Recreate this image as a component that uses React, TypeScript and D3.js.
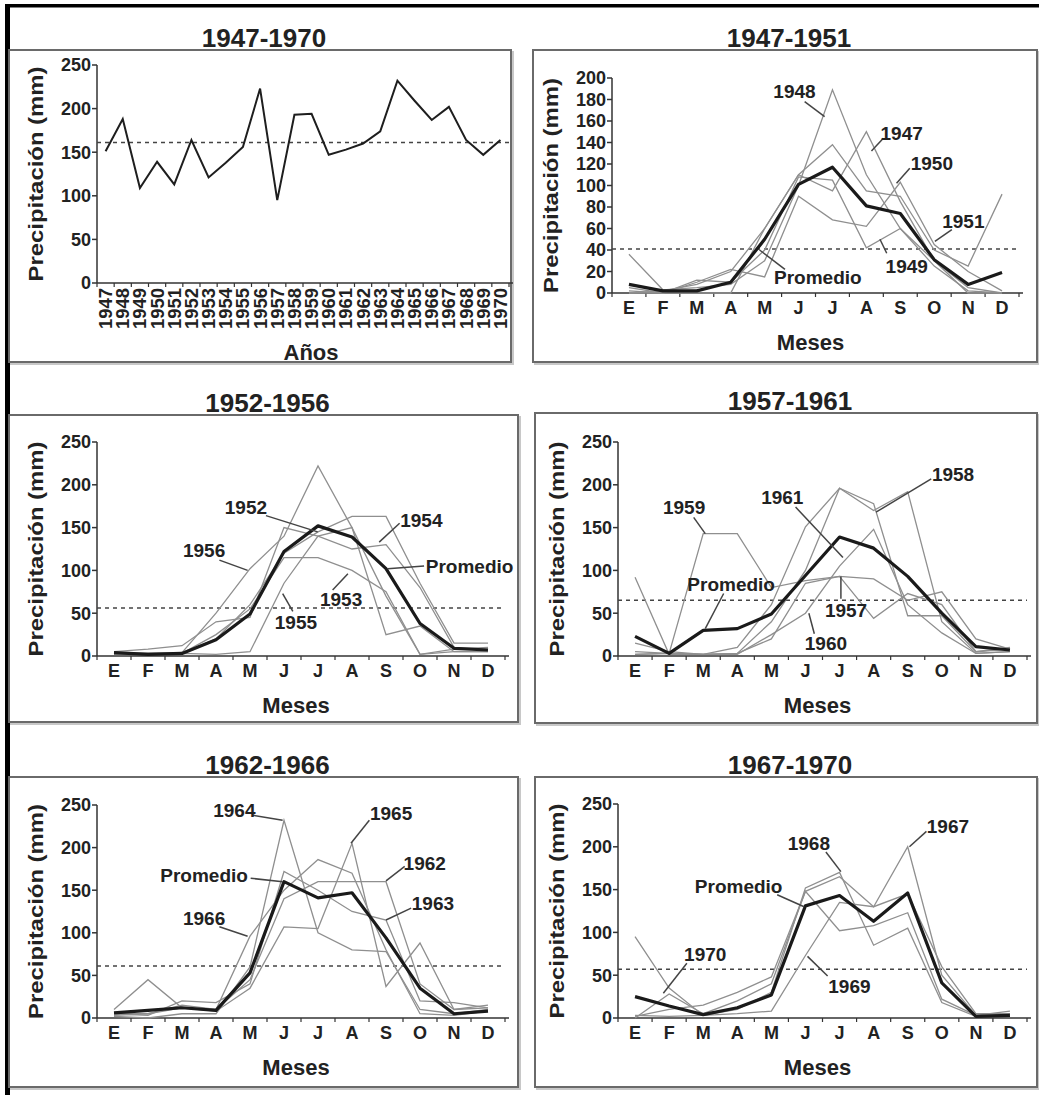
import React from 'react';
import * as d3 from 'd3';

// ---- data ----
const years = ['1947', '1948', '1949', '1950', '1951', '1952', '1953', '1954', '1955', '1956', '1957', '1958',
  '1959', '1960', '1961', '1962', '1963', '1964', '1965', '1966', '1967', '1968', '1969', '1970'];
const annualPrecip = [151, 188, 109, 139, 113, 164, 121, 138, 156, 223, 95, 193,
  194, 147, 153, 160, 174, 232, 209, 187, 202, 164, 147, 164];
const annualMean = 161;

const months = ['E', 'F', 'M', 'A', 'M', 'J', 'J', 'A', 'S', 'O', 'N', 'D'];

// 1947-1951
const y1947 = [0, 2, 8, 20, 60, 110, 95, 150, 85, 30, 5, 0];
const y1948 = [36, 3, 5, 8, 30, 100, 189, 110, 60, 25, 2, 0];
const y1949 = [5, 0, 12, 10, 40, 108, 105, 42, 60, 30, 0, 0];
const y1950 = [2, 0, 10, 22, 15, 90, 68, 62, 103, 45, 20, 2];
const y1951 = [0, 0, 0, 0, 60, 110, 138, 95, 90, 40, 25, 92];
const avg4751 = [8, 2, 2, 10, 50, 101, 117, 81, 74, 31, 8, 19];
const mean4751 = 41;

// 1952-1956
const y1952 = [5, 8, 12, 40, 45, 150, 140, 125, 130, 80, 10, 8];
const y1953 = [4, 3, 3, 25, 55, 115, 115, 100, 75, 2, 8, 10];
const y1954 = [3, 3, 3, 20, 60, 120, 145, 163, 163, 85, 15, 15];
const y1955 = [2, 2, 3, 2, 5, 85, 140, 150, 25, 35, 5, 5];
const y1956 = [3, 3, 4, 50, 102, 140, 222, 150, 70, 2, 5, 5];
const avg5256 = [4, 2, 3, 19, 49, 122, 152, 139, 102, 38, 9, 7];
const mean5256 = 56;

// 1957-1961
const y1957 = [5, 3, 2, 3, 20, 85, 93, 90, 65, 75, 20, 8];
const y1958 = [92, 2, 2, 3, 40, 100, 196, 170, 192, 40, 3, 5];
const y1959 = [2, 3, 143, 143, 80, 88, 93, 44, 73, 60, 5, 8];
const y1960 = [2, 3, 2, 2, 25, 50, 105, 148, 60, 27, 3, 5];
const y1961 = [15, 5, 2, 10, 60, 151, 196, 178, 47, 47, 5, 10];
const avg5761 = [23, 3, 30, 32, 49, 94, 139, 126, 93, 50, 11, 7];
const mean5761 = 65;

// 1962-1966
const y1962 = [10, 45, 12, 10, 45, 140, 160, 160, 160, 40, 10, 12];
const y1963 = [5, 3, 20, 18, 40, 172, 150, 125, 115, 20, 18, 12];
const y1964 = [2, 0, 5, 5, 60, 232, 100, 80, 78, 10, 5, 10];
const y1965 = [5, 5, 12, 8, 35, 107, 105, 205, 37, 88, 10, 15];
const y1966 = [3, 5, 15, 10, 96, 150, 186, 170, 80, 5, 3, 8];
const avg6266 = [6, 9, 12, 9, 53, 160, 141, 147, 94, 35, 5, 8];
const mean6266 = 61;

// 1967-1970
const y1967 = [2, 10, 15, 30, 48, 148, 165, 130, 200, 50, 3, 5];
const y1968 = [95, 35, 3, 10, 30, 152, 170, 85, 105, 18, 2, 2];
const y1969 = [3, 2, 3, 5, 8, 73, 135, 130, 145, 60, 5, 5];
const y1970 = [0, 28, 5, 20, 40, 148, 102, 108, 123, 22, 3, 8];
const avg6770 = [25, 14, 4, 12, 27, 131, 143, 113, 146, 41, 2, 3];
const mean6770 = 57;

// labels with leader lines, in data units (month index, mm)
const notes4751 = [
  { t: '1948', tx: 4.88, ty: 188, x1: 5.18, y1: 178, x2: 5.77, y2: 164 },
  { t: '1947', tx: 8.04, ty: 149, x1: 7.5, y1: 144, x2: 7.15, y2: 132 },
  { t: '1950', tx: 8.93, ty: 121, x1: 8.28, y1: 116, x2: 7.89, y2: 102 },
  { t: '1951', tx: 9.86, ty: 67, x1: 9.52, y1: 59, x2: 9.02, y2: 48 },
  { t: '1949', tx: 8.19, ty: 25, x1: 7.6, y1: 37, x2: 7.4, y2: 50 },
  { t: 'Promedio', tx: 5.57, ty: 15, x1: 4.6, y1: 22, x2: 3.85, y2: 40 },
];
const notes5256 = [
  { t: '1952', tx: 3.88, ty: 174, x1: 4.47, y1: 164, x2: 5.99, y2: 145 },
  { t: '1956', tx: 2.65, ty: 124, x1: 3.1, y1: 112, x2: 3.93, y2: 100 },
  { t: '1954', tx: 9.04, ty: 159, x1: 8.4, y1: 155, x2: 7.8, y2: 133 },
  { t: 'Promedio', tx: 9.17, ty: 105, x1: 9.12, y1: 105, x2: 8.05, y2: 102, anchor: 'start' },
  { t: '1953', tx: 6.68, ty: 66, x1: 6.43, y1: 77, x2: 6.88, y2: 96 },
  { t: '1955', tx: 5.35, ty: 40, x1: 5.26, y1: 52, x2: 4.96, y2: 73 },
];
const notes5761 = [
  { t: '1959', tx: 1.44, ty: 174, x1: 1.72, y1: 162, x2: 2.06, y2: 143 },
  { t: '1961', tx: 4.32, ty: 186, x1: 4.71, y1: 174, x2: 6.1, y2: 115 },
  { t: '1958', tx: 9.33, ty: 213, x1: 8.69, y1: 207, x2: 7.07, y2: 168 },
  { t: 'Promedio', tx: 2.82, ty: 84, x1: 2.6, y1: 73, x2: 2.06, y2: 32 },
  { t: '1957', tx: 6.19, ty: 54, x1: 6.04, y1: 67, x2: 6.04, y2: 93 },
  { t: '1960', tx: 5.6, ty: 15, x1: 5.26, y1: 26, x2: 5.1, y2: 50 },
];
const notes6266 = [
  { t: '1964', tx: 3.54, ty: 244, x1: 4.08, y1: 238, x2: 4.96, y2: 232 },
  { t: '1965', tx: 8.15, ty: 240, x1: 7.51, y1: 232, x2: 6.97, y2: 205 },
  { t: '1962', tx: 9.14, ty: 182, x1: 8.55, y1: 178, x2: 8.0, y2: 161 },
  { t: '1963', tx: 9.38, ty: 135, x1: 8.74, y1: 129, x2: 8.0, y2: 115 },
  { t: 'Promedio', tx: 2.65, ty: 168, x1: 4.02, y1: 164, x2: 4.96, y2: 160 },
  { t: '1966', tx: 2.65, ty: 117, x1: 3.1, y1: 107, x2: 3.93, y2: 96 },
];
const notes6770 = [
  { t: '1967', tx: 9.18, ty: 224, x1: 8.55, y1: 218, x2: 8.05, y2: 200 },
  { t: '1968', tx: 5.1, ty: 204, x1: 5.6, y1: 194, x2: 6.04, y2: 171 },
  { t: 'Promedio', tx: 3.04, ty: 154, x1: 4.17, y1: 144, x2: 4.96, y2: 130 },
  { t: '1970', tx: 2.06, ty: 74, x1: 1.52, y1: 64, x2: 0.83, y2: 29 },
  { t: '1969', tx: 6.29, ty: 37, x1: 5.65, y1: 49, x2: 5.06, y2: 72 },
];

const FONT = '"Liberation Sans", Arial, sans-serif';
const INK = '#222';

type Note = { t: string; tx: number; ty: number; x1: number; y1: number; x2: number; y2: number; anchor?: string };
type Layout = { bx0: number; bx1: number; by0: number; by1: number; left: number; right: number; top: number; bottom: number };

const Frame = ({ lay, title }: { lay: Layout; title: string }) => (
  <g>
    <rect x={lay.bx0 + 2} y={lay.by0 + 2} width={lay.bx1 - lay.bx0} height={lay.by1 - lay.by0} fill="none" stroke="#c8c8c8" strokeWidth={2} />
    <rect x={lay.bx0} y={lay.by0} width={lay.bx1 - lay.bx0} height={lay.by1 - lay.by0} fill="#fff" stroke="#6a6a6a" strokeWidth={2} />
    <text x={(lay.bx0 + lay.bx1) / 2 + 4} y={lay.by0 - 3} textAnchor="middle" fontFamily={FONT} fontWeight="bold" fontSize={26} fill={INK}>{title}</text>
  </g>
);

const YAxis = ({ y, ticks, lay }: { y: d3.ScaleLinear<number, number>; ticks: number[]; lay: Layout }) => (
  <g>
    <line x1={lay.left} x2={lay.left} y1={lay.bottom} y2={lay.top} stroke="#333" strokeWidth={1.5} />
    {ticks.map(t => (
      <g key={t}>
        <line x1={lay.left - 5} x2={lay.left} y1={y(t)} y2={y(t)} stroke="#333" strokeWidth={1.5} />
        <text x={lay.left - 6} y={y(t)} dy="0.36em" textAnchor="end" fontFamily={FONT} fontWeight="bold" fontSize={18} fill={INK}>{t}</text>
      </g>
    ))}
    <text transform={`translate(${lay.left - 61},${(lay.top + lay.bottom) / 2}) rotate(-90)`} textAnchor="middle" dy="0.35em"
      fontFamily={FONT} fontWeight="bold" fontSize={20} fill={INK} textLength={215} lengthAdjust="spacingAndGlyphs">Precipitación (mm)</text>
  </g>
);

const AnnualPanel = ({ lay }: { lay: Layout }) => {
  const x = d3.scaleBand().domain(years).range([lay.left, lay.right]);
  const y = d3.scaleLinear().domain([0, 250]).range([lay.bottom, lay.top]);
  const bw = x.bandwidth();
  const line = d3.line<number>().x((d, i) => (x(years[i]) as number) + bw / 2).y(d => y(d));
  return (
    <g>
      <Frame lay={lay} title="1947-1970" />
      <YAxis y={y} ticks={d3.range(0, 251, 50)} lay={lay} />
      <line x1={lay.left} x2={lay.right + 4} y1={lay.bottom} y2={lay.bottom} stroke="#333" strokeWidth={1.5} />
      {d3.range(years.length + 1).map(i => (
        <line key={i} x1={lay.left + i * bw} x2={lay.left + i * bw} y1={lay.bottom} y2={lay.bottom + 4} stroke="#333" strokeWidth={1.2} />
      ))}
      {years.map(yr => (
        <text key={yr} transform={`translate(${(x(yr) as number) + bw / 2},${lay.bottom + 5}) rotate(-90)`} textAnchor="end" dy="0.36em"
          fontFamily={FONT} fontWeight="bold" fontSize={18} fill={INK} textLength={41} lengthAdjust="spacingAndGlyphs">{yr}</text>
      ))}
      <line x1={lay.left} x2={lay.right + 4} y1={y(annualMean)} y2={y(annualMean)} stroke="#444" strokeWidth={1.5} strokeDasharray="4 4" />
      <path d={line(annualPrecip) as string} fill="none" stroke="#1e1e1e" strokeWidth={2} />
      <text x={(lay.left + lay.right) / 2 + 8} y={lay.bottom + 77} textAnchor="middle" fontFamily={FONT} fontWeight="bold" fontSize={22} fill={INK}>Años</text>
    </g>
  );
};

const MonthPanel = ({ lay, title, yMax, step, series, avg, mean, notes }:
  { lay: Layout; title: string; yMax: number; step: number; series: number[][]; avg: number[]; mean: number; notes: Note[] }) => {
  const idx = d3.range(months.length);
  const x = d3.scaleBand<number>().domain(idx).range([lay.left, lay.right]);
  const y = d3.scaleLinear().domain([0, yMax]).range([lay.bottom, lay.top]);
  const bw = x.bandwidth();
  const px = (i: number) => lay.left + bw / 2 + i * bw;
  const line = d3.line<number>().x((d, i) => (x(i) as number) + bw / 2).y(d => y(d));
  return (
    <g>
      <Frame lay={lay} title={title} />
      <YAxis y={y} ticks={d3.range(0, yMax + 1, step)} lay={lay} />
      <line x1={lay.left} x2={lay.right + 4} y1={lay.bottom} y2={lay.bottom} stroke="#333" strokeWidth={1.5} />
      {d3.range(months.length + 1).map(i => (
        <line key={i} x1={lay.left + i * bw} x2={lay.left + i * bw} y1={lay.bottom} y2={lay.bottom + 4} stroke="#333" strokeWidth={1.2} />
      ))}
      {idx.map(i => (
        <text key={i} x={(x(i) as number) + bw / 2} y={lay.bottom + 21} textAnchor="middle" fontFamily={FONT} fontWeight="bold" fontSize={18} fill={INK}>{months[i]}</text>
      ))}
      <line x1={lay.left} x2={lay.right} y1={y(mean)} y2={y(mean)} stroke="#444" strokeWidth={1.5} strokeDasharray="4 4" />
      {series.map((s, k) => (
        <path key={k} d={line(s) as string} fill="none" stroke="#8f8f8f" strokeWidth={1.3} />
      ))}
      <path d={line(avg) as string} fill="none" stroke="#1a1a1a" strokeWidth={3.2} strokeLinejoin="round" />
      {notes.map(n => (
        <g key={n.t}>
          <line x1={px(n.x1)} y1={y(n.y1)} x2={px(n.x2)} y2={y(n.y2)} stroke="#444" strokeWidth={1.5} />
          <text x={px(n.tx)} y={y(n.ty)} dy="0.36em" textAnchor={n.anchor || 'middle'} fontFamily={FONT} fontWeight="bold" fontSize={19} fill={INK}>{n.t}</text>
        </g>
      ))}
      <text x={(lay.left + lay.right) / 2 - 5} y={lay.bottom + 57} textAnchor="middle" fontFamily={FONT} fontWeight="bold" fontSize={22} fill={INK}>Meses</text>
    </g>
  );
};

const L1: Layout = { bx0: 9, bx1: 511, by0: 50, by1: 362, left: 97, right: 509, top: 65, bottom: 283 };
const L2: Layout = { bx0: 533, bx1: 1037, by0: 50, by1: 362, left: 612, right: 1019, top: 78, bottom: 293 };
const L3: Layout = { bx0: 9, bx1: 518, by0: 415, by1: 722, left: 97, right: 505, top: 442, bottom: 656 };
const L4: Layout = { bx0: 535, bx1: 1037, by0: 413, by1: 723, left: 618, right: 1027, top: 442, bottom: 656 };
const L5: Layout = { bx0: 9, bx1: 518, by0: 777, by1: 1087, left: 97, right: 505, top: 805, bottom: 1018 };
const L6: Layout = { bx0: 535, bx1: 1037, by0: 777, by1: 1087, left: 618, right: 1027, top: 804, bottom: 1018 };

export default function App() {
  return (
    <svg width={1039} height={1095} style={{ position: 'absolute', left: 0, top: 0, background: '#fff' }}>
      <rect x={0} y={0} width={1039} height={1095} fill="#fff" />
      <rect x={5} y={4} width={1034} height={3.5} fill="#000" />
      <rect x={5} y={4} width={5} height={1091} fill="#000" />
      <AnnualPanel lay={L1} />
      <MonthPanel lay={L2} title="1947-1951" yMax={200} step={20} series={[y1947, y1948, y1949, y1950, y1951]} avg={avg4751} mean={mean4751} notes={notes4751} />
      <MonthPanel lay={L3} title="1952-1956" yMax={250} step={50} series={[y1952, y1953, y1954, y1955, y1956]} avg={avg5256} mean={mean5256} notes={notes5256} />
      <MonthPanel lay={L4} title="1957-1961" yMax={250} step={50} series={[y1957, y1958, y1959, y1960, y1961]} avg={avg5761} mean={mean5761} notes={notes5761} />
      <MonthPanel lay={L5} title="1962-1966" yMax={250} step={50} series={[y1962, y1963, y1964, y1965, y1966]} avg={avg6266} mean={mean6266} notes={notes6266} />
      <MonthPanel lay={L6} title="1967-1970" yMax={250} step={50} series={[y1967, y1968, y1969, y1970]} avg={avg6770} mean={mean6770} notes={notes6770} />
    </svg>
  );
}
